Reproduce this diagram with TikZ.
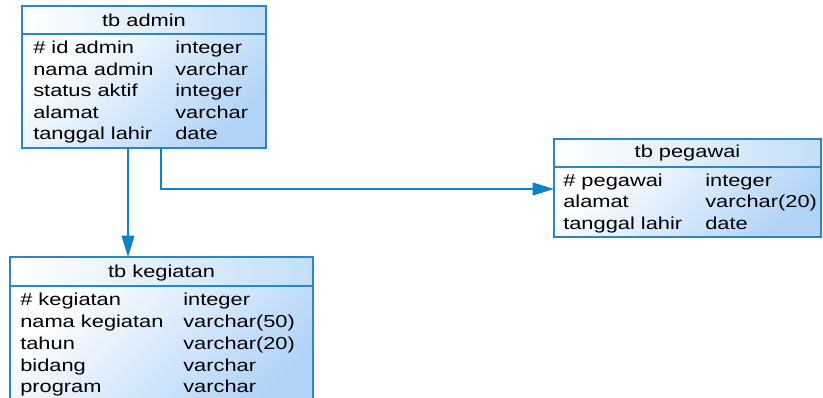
\documentclass[tikz,border=0pt]{standalone}
\usepackage{fontspec}
\setmainfont[FakeStretch=1.26]{Liberation Sans}
\usetikzlibrary{arrows.meta}
\definecolor{bordc}{HTML}{2B86C6}
\definecolor{linec}{HTML}{0A84C6}
\definecolor{fillc}{HTML}{B0D3F7}
\tikzset{
  tbl/.style={draw=bordc, line width=1.3pt, top color=white, bottom color=fillc, shading angle=45},
  hdr/.style={draw=bordc, line width=1.3pt, left color=white, right color=fillc!75},
  ttl/.style={anchor=base, inner sep=0pt, font=\fontsize{13}{16}\selectfont},
  fld/.style={anchor=base west, inner sep=0pt, font=\fontsize{13}{16}\selectfont},
  conn/.style={draw=linec, line width=1.3pt, -{Triangle[length=16pt,width=9.5pt]}},
}
\begin{document}
\begin{tikzpicture}[x=0.75pt,y=-0.75pt]
\useasboundingbox (0,0) rectangle (823,398);
\clip (0,0) rectangle (823,398);
% tb admin
\path[tbl] (22,34) rectangle (266,148);
\path[hdr] (22,6) rectangle (266,34);
\node[ttl] (adminT) at (144,26.3) {tb admin};
\node[fld] (a1) at (33,54) {\# id admin};
\node[fld] (a1t) at (175,54) {integer};
\node[fld] (a2) at (33,75.5) {nama admin};
\node[fld] (a2t) at (175,75.5) {varchar};
\node[fld] (a3) at (33,97) {status aktif};
\node[fld] (a3t) at (175,97) {integer};
\node[fld] (a4) at (33,118.5) {alamat};
\node[fld] (a4t) at (175,118.5) {varchar};
\node[fld] (a5) at (33,140) {tanggal lahir};
\node[fld] (a5t) at (175,140) {date};
\coordinate (adminB1) at (128,148);
\coordinate (adminB2) at (161,148);
% tb pegawai
\path[tbl] (554,167) rectangle (821,237);
\path[hdr] (554,139) rectangle (821,167);
\node[ttl] (pegT) at (687.5,157.3) {tb pegawai};
\node[fld] (p1) at (563,186.5) {\# pegawai};
\node[fld] (p1t) at (705,186.5) {integer};
\node[fld] (p2) at (563,208) {alamat};
\node[fld] (p2t) at (705,208) {varchar(20)};
\node[fld] (p3) at (563,229.5) {tanggal lahir};
\node[fld] (p3t) at (705,229.5) {date};
\coordinate (pegL) at (554,189);
% tb kegiatan
\path[tbl] (10,286) rectangle (313,410);
\path[hdr] (10,257) rectangle (313,286);
\node[ttl] (kegT) at (161.5,277.3) {tb kegiatan};
\node[fld] (k1) at (20,306) {\# kegiatan};
\node[fld] (k1t) at (183,306) {integer};
\node[fld] (k2) at (20,327.7) {nama kegiatan};
\node[fld] (k2t) at (183,327.7) {varchar(50)};
\node[fld] (k3) at (20,349.3) {tahun};
\node[fld] (k3t) at (183,349.3) {varchar(20)};
\node[fld] (k4) at (20,371) {bidang};
\node[fld] (k4t) at (183,371) {varchar};
\node[fld] (k5) at (20,392.7) {program};
\node[fld] (k5t) at (183,392.7) {varchar};
\coordinate (kegTop) at (128,257);
% connectors
\draw[conn] (adminB1) -- (kegTop);
\draw[conn] (adminB2) |- (pegL);
\end{tikzpicture}
\end{document}
